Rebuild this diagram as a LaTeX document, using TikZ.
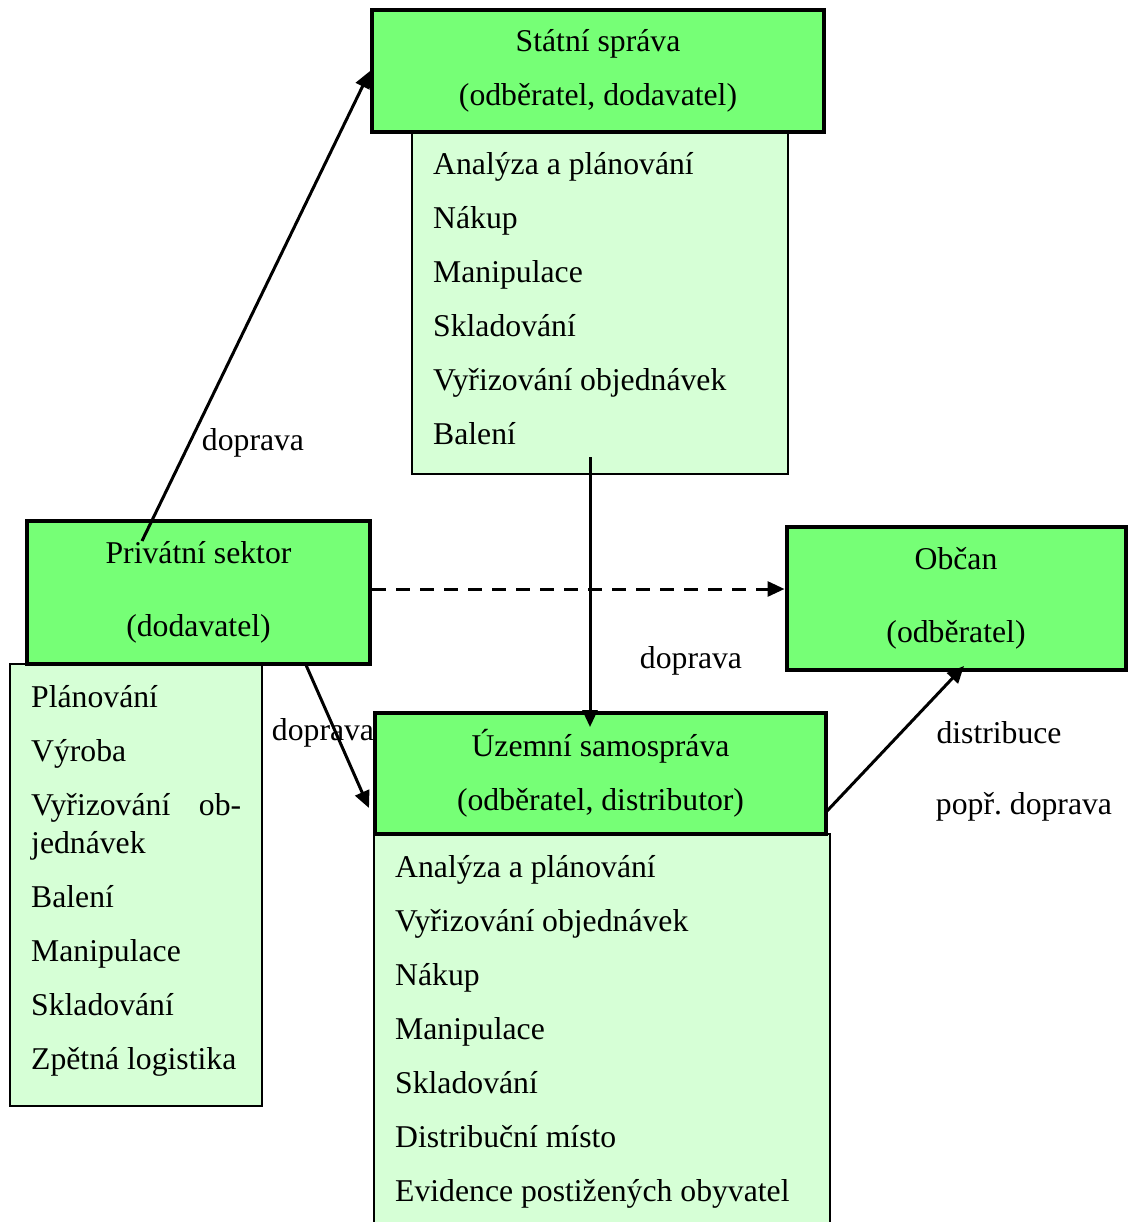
\documentclass[tikz,border=0pt]{standalone}
\usepackage{fontspec}
\setmainfont{Liberation Serif}
\usetikzlibrary{arrows.meta,positioning,calc}
\definecolor{boxgreen}{RGB}{118,255,118}
\definecolor{listgreen}{RGB}{214,255,214}
\tikzset{
    >={Triangle[length=17pt,width=15pt]}, % filled triangle tips
    titlebox/.style={draw, line width=4pt, fill=boxgreen, align=center, inner sep=0pt}, % green heading boxes
    listbox/.style={draw, line width=1.5pt, fill=listgreen, inner sep=0pt}, % pale activity boxes
    items/.style={align=left, inner sep=0pt, anchor=base west}, % placed at the baseline of the last line
    edgetext/.style={inner sep=0pt},
    conn/.style={->, line width=3pt},
}

\begin{document}
\begin{tikzpicture}[x=1pt,y=-1pt,font=\fontsize{31.7}{54}\selectfont]
    \useasboundingbox (0,0) rectangle (1128,1222);
    % state administration
    \node[listbox, minimum width=376pt, minimum height=342pt] (statlist) at (600,303) {};
    \node[items] (statitems) at (433,444)
        {Analýza a plánování\\Nákup\\Manipulace\\Skladování\\Vyřizování objednávek\\Balení};
    \node[titlebox, minimum width=452pt, minimum height=122pt] (statni) at (598,71)
        {Státní správa\\(odběratel, dodavatel)};
    % private sector
    \node[listbox, minimum width=252pt, minimum height=442pt] (privlist) at (136,885) {};
    \node[items] (privitems) at (31,1069)
        {Plánování\\Výroba\\\makebox[210pt][s]{Vyřizování\hfill ob-}\\[-16pt]jednávek\\Balení\\Manipulace\\Skladování\\Zpětná logistika};
    \node[titlebox, minimum width=343pt, minimum height=143pt] (priv) at (198.5,592.5)
        {Privátní sektor\\[19pt](dodavatel)};
    % citizen
    \node[titlebox, minimum width=339pt, minimum height=143pt] (obcan) at (956,598.5)
        {Občan\\[19pt](odběratel)};
    % local government
    \node[listbox, minimum width=456pt, minimum height=390pt] (uzemlist) at (602,1029) {};
    \node[items] (uzemitems) at (395,1201)
        {Analýza a plánování\\Vyřizování objednávek\\Nákup\\Manipulace\\Skladování\\Distribuční místo\\Evidence postižených obyvatel};
    \node[titlebox, minimum width=451pt, minimum height=121pt] (uzemni) at (600.5,773.5)
        {Územní samospráva\\(odběratel, distributor)};

    % connectors
    \coordinate (upstart) at (142,541);
    \coordinate (downstart) at (590,457);
    \coordinate (downend) at (590,727);
    \coordinate (privout) at (306,665);
    \coordinate (uzemin) at (369,808);
    \coordinate (distout) at (827,811);
    \coordinate (obcanin) at (964,666);
    \draw[conn] (upstart) -- (statni.west);
    \draw[conn, dash pattern=on 14pt off 10pt] ([yshift=3.5pt]priv.east) -- ([yshift=3.5pt]priv.east -| obcan.west);
    \draw[conn] (downstart) -- (downend);
    \draw[conn] (privout) -- (uzemin);
    \draw[conn] (distout) -- (obcanin);

    % labels
    \node[edgetext] (dopup) at (253,443) {doprava};
    \node[edgetext] (dopmid) at (691,661) {doprava};
    \node[edgetext] (doplow) at (323,733) {doprava};
    \node[edgetext] (distlabel) at (999,733) {distribuce};
    \node[edgetext] (poprlabel) at (1024,807) {popř.\ doprava};
\end{tikzpicture}
\end{document}
